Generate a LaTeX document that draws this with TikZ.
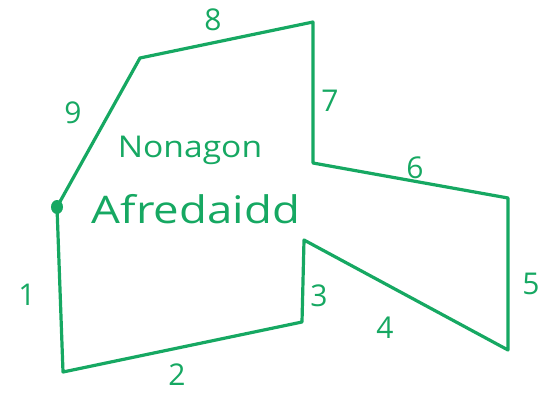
\documentclass[tikz,border=0pt]{standalone}
\usepackage{fontspec}
\setmainfont{Open Sans}
\definecolor{pen}{RGB}{22,168,98}
\begin{document}
\begin{tikzpicture}[x=1pt,y=-1pt,
  edge/.style={draw=pen,line width=3.2pt,line join=round,line cap=round},
  num/.style={text=pen,font=\fontsize{30}{30}\selectfont,inner sep=0pt},
  word/.style={text=pen,inner sep=0pt}]
\useasboundingbox (0,0) rectangle (557,394);
\coordinate (p1) at (57,207);
\coordinate (p2) at (63,372);
\coordinate (p3) at (302,322);
\coordinate (p4) at (304,240);
\coordinate (p5) at (508,350);
\coordinate (p6) at (508,198);
\coordinate (p7) at (313,163);
\coordinate (p8) at (313,22);
\coordinate (p9) at (140,58);
\draw[edge] (p1) -- (p2) -- (p3) -- (p4) -- (p5) -- (p6) -- (p7) -- (p8) -- (p9) -- (p1);
\fill[pen] (p1) ellipse (6pt and 7pt);
\node[num] (l1) at (27,295) {1};
\node[num] (l2) at (177,375) {2};
\node[num] (l3) at (319,296) {3};
\node[num] (l4) at (385,328) {4};
\node[num] (l5) at (531,284) {5};
\node[num] (l6) at (415,168) {6};
\node[num] (l7) at (330,101) {7};
\node[num] (l8) at (213,20) {8};
\node[num] (l9) at (73,113) {9};
\node[word,font=\fontsize{30}{30}\selectfont,xscale=1.12] (w1) at (190,150) {Nonagon};
\node[word,font=\fontsize{38}{38}\selectfont,xscale=1.2] (w2) at (196,209) {Afredaidd};
\end{tikzpicture}
\end{document}
